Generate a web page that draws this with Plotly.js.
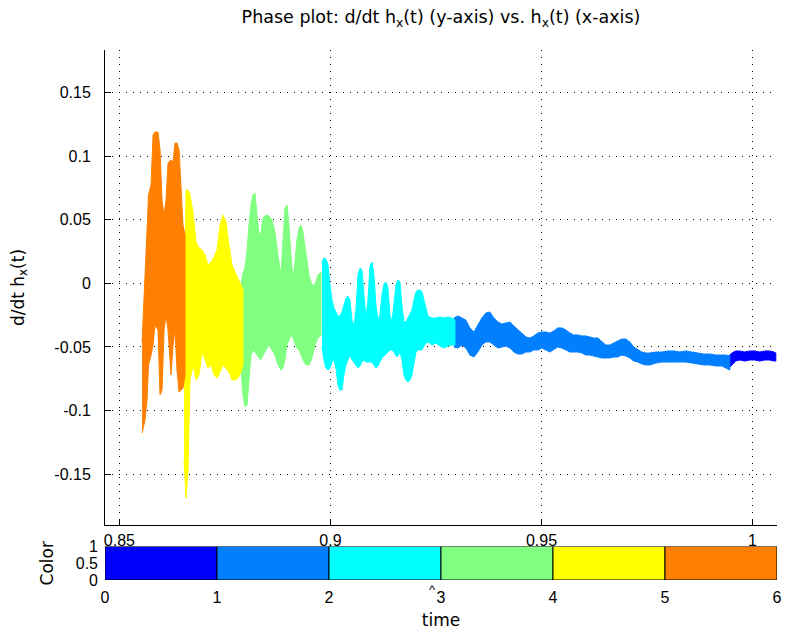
<!DOCTYPE html>
<html>
<head>
<meta charset="utf-8">
<script src="https://cdn.plot.ly/plotly-3.0.1.min.js"></script>
<style>html,body{margin:0;padding:0;background:#fff;}#chart{width:793px;height:635px;}</style>
</head>
<body>
<div id="chart"></div>
<script>
// ---- data (envelopes of each coloured time segment) ----
const orangeX = [0.85538,0.85609,0.85656,0.85691,0.85751,0.85798,0.85845,0.85916,0.85964,0.86011,0.86059,0.86106,0.86153,0.86224,0.86272,0.86319,0.86366,0.86414,0.86461,0.86508,0.86556];
const orangeTop = [-0.0461,0.0010,0.0419,0.0694,0.0773,0.1166,0.1189,0.1189,0.1048,0.0655,0.0535,0.0655,0.0946,0.0969,0.0953,0.1103,0.1103,0.1048,0.0733,0.0458,0.0380];
const orangeBot = [-0.1177,-0.1075,-0.0917,-0.0642,-0.0564,-0.0485,-0.0328,-0.0367,-0.0878,-0.0839,-0.0367,-0.0249,-0.0367,-0.0721,-0.0485,-0.0367,-0.0682,-0.0855,-0.0839,-0.0823,-0.0721];

const yellowX = [0.86532,0.86580,0.86627,0.86674,0.86745,0.86816,0.86887,0.86958,0.87029,0.87101,0.87172,0.87243,0.87314,0.87385,0.87456,0.87527,0.87598,0.87669,0.87740,0.87811,0.87882,0.87929];
const yellowTop = [-0.0367,0.0733,0.0733,0.0694,0.0561,0.0325,0.0278,0.0262,0.0222,0.0144,0.0167,0.0207,0.0262,0.0458,0.0537,0.0482,0.0301,0.0144,0.0089,0.0042,-0.0013,-0.0053];
const yellowBot = [-0.1389,-0.1688,-0.1468,-0.0760,-0.0642,-0.0760,-0.0721,-0.0540,-0.0603,-0.0666,-0.0642,-0.0721,-0.0745,-0.0697,-0.0642,-0.0666,-0.0697,-0.0760,-0.0760,-0.0745,-0.0697,-0.0642];

const greenX = [0.87882,0.87929,0.87977,0.88024,0.88071,0.88119,0.88166,0.88213,0.88261,0.88308,0.88356,0.88403,0.88474,0.88545,0.88616,0.88687,0.88758,0.88829,0.88877,0.88924,0.88971,0.89019,0.89066,0.89113,0.89161,0.89208,0.89256,0.89303,0.89350,0.89421,0.89492,0.89563,0.89634,0.89705,0.89777];
const greenTop = [-0.0013,0.0081,0.0120,0.0262,0.0458,0.0616,0.0694,0.0710,0.0537,0.0380,0.0403,0.0513,0.0537,0.0529,0.0498,0.0403,0.0222,0.0065,0.0340,0.0592,0.0616,0.0458,0.0222,0.0026,0.0167,0.0340,0.0435,0.0458,0.0403,0.0222,0.0065,-0.0013,-0.0013,0.0065,0.0089];
const greenBot = [-0.0682,-0.0878,-0.0972,-0.0957,-0.0760,-0.0564,-0.0524,-0.0540,-0.0564,-0.0587,-0.0603,-0.0564,-0.0524,-0.0485,-0.0524,-0.0564,-0.0642,-0.0682,-0.0666,-0.0603,-0.0485,-0.0446,-0.0406,-0.0430,-0.0461,-0.0509,-0.0524,-0.0564,-0.0603,-0.0642,-0.0642,-0.0587,-0.0485,-0.0430,-0.0406];

const cyanX = [0.89800,0.89847,0.89895,0.89942,0.89990,0.90037,0.90084,0.90132,0.90179,0.90226,0.90274,0.90321,0.90369,0.90416,0.90463,0.90511,0.90558,0.90605,0.90653,0.90700,0.90748,0.90795,0.90842,0.90890,0.90937,0.90984,0.91032,0.91079,0.91127,0.91174,0.91221,0.91269,0.91316,0.91363,0.91411,0.91458,0.91506,0.91553,0.91600,0.91648,0.91695,0.91742,0.91790,0.91837,0.91885,0.91932,0.91979,0.92027,0.92074,0.92121,0.92169,0.92216,0.92264,0.92311,0.92406,0.92500,0.92595,0.92690,0.92785,0.92879,0.92950];
const cyanTop = [0.0167,0.0199,0.0191,0.0144,-0.0013,-0.0131,-0.0194,-0.0226,-0.0257,-0.0257,-0.0226,-0.0171,-0.0116,-0.0100,-0.0131,-0.0289,-0.0336,-0.0210,0.0065,0.0120,0.0105,-0.0092,-0.0273,-0.0131,0.0136,0.0167,0.0065,-0.0171,-0.0289,-0.0249,-0.0092,-0.0006,0.0010,-0.0037,-0.0249,-0.0304,-0.0171,-0.0013,0.0026,0.0010,-0.0171,-0.0304,-0.0304,-0.0273,-0.0249,-0.0210,-0.0131,-0.0068,-0.0053,-0.0053,-0.0068,-0.0131,-0.0210,-0.0257,-0.0273,-0.0273,-0.0265,-0.0273,-0.0265,-0.0273,-0.0289];
const cyanBot = [-0.0501,-0.0603,-0.0666,-0.0682,-0.0666,-0.0619,-0.0603,-0.0666,-0.0800,-0.0839,-0.0839,-0.0721,-0.0642,-0.0603,-0.0564,-0.0603,-0.0619,-0.0642,-0.0666,-0.0650,-0.0619,-0.0603,-0.0619,-0.0619,-0.0619,-0.0619,-0.0642,-0.0666,-0.0650,-0.0619,-0.0587,-0.0572,-0.0564,-0.0540,-0.0524,-0.0524,-0.0540,-0.0572,-0.0572,-0.0540,-0.0603,-0.0721,-0.0760,-0.0776,-0.0760,-0.0721,-0.0642,-0.0540,-0.0524,-0.0524,-0.0524,-0.0493,-0.0469,-0.0461,-0.0485,-0.0469,-0.0493,-0.0509,-0.0493,-0.0485,-0.0485];

const azureX = [0.92926,0.93021,0.93116,0.93210,0.93305,0.93400,0.93494,0.93589,0.93684,0.93778,0.93873,0.93968,0.94063,0.94157,0.94252,0.94347,0.94441,0.94536,0.94631,0.94725,0.94820,0.94915,0.95009,0.95104,0.95199,0.95293,0.95388,0.95483,0.95578,0.95672,0.95767,0.95862,0.95956,0.96051,0.96146,0.96240,0.96335,0.96430,0.96524,0.96619,0.96714,0.96808,0.96903,0.96998,0.97093,0.97187,0.97282,0.97377,0.97471,0.97566,0.97710,0.97852,0.97994,0.98136,0.98278,0.98420,0.98562,0.98704,0.98846,0.98988,0.99130,0.99273,0.99367,0.99462];
const azureTop = [-0.0273,-0.0257,-0.0273,-0.0289,-0.0351,-0.0383,-0.0328,-0.0273,-0.0233,-0.0226,-0.0273,-0.0304,-0.0320,-0.0312,-0.0304,-0.0336,-0.0367,-0.0391,-0.0422,-0.0430,-0.0414,-0.0391,-0.0383,-0.0383,-0.0391,-0.0375,-0.0351,-0.0351,-0.0367,-0.0391,-0.0406,-0.0406,-0.0414,-0.0414,-0.0422,-0.0430,-0.0430,-0.0461,-0.0485,-0.0485,-0.0469,-0.0454,-0.0438,-0.0438,-0.0461,-0.0501,-0.0524,-0.0540,-0.0548,-0.0548,-0.0540,-0.0540,-0.0532,-0.0532,-0.0540,-0.0532,-0.0540,-0.0548,-0.0556,-0.0556,-0.0564,-0.0564,-0.0564,-0.0572];
const azureBot = [-0.0501,-0.0509,-0.0485,-0.0509,-0.0564,-0.0579,-0.0540,-0.0485,-0.0461,-0.0461,-0.0485,-0.0509,-0.0501,-0.0493,-0.0509,-0.0540,-0.0556,-0.0556,-0.0540,-0.0540,-0.0524,-0.0524,-0.0509,-0.0524,-0.0540,-0.0524,-0.0501,-0.0509,-0.0524,-0.0540,-0.0540,-0.0540,-0.0548,-0.0564,-0.0564,-0.0572,-0.0579,-0.0587,-0.0587,-0.0587,-0.0579,-0.0579,-0.0564,-0.0572,-0.0587,-0.0611,-0.0619,-0.0634,-0.0642,-0.0642,-0.0627,-0.0619,-0.0619,-0.0619,-0.0619,-0.0619,-0.0627,-0.0634,-0.0642,-0.0642,-0.0650,-0.0650,-0.0666,-0.0682];

const blueX = [0.99439,0.99510,0.99604,0.99699,0.99818,0.99936,1.00055,1.00173,1.00292,1.00410,1.00505,1.00552];
const blueTop = [-0.0572,-0.0548,-0.0532,-0.0532,-0.0540,-0.0532,-0.0532,-0.0540,-0.0532,-0.0532,-0.0540,-0.0548];
const blueBot = [-0.0666,-0.0642,-0.0611,-0.0603,-0.0611,-0.0603,-0.0603,-0.0611,-0.0603,-0.0603,-0.0611,-0.0611];

// colour legend bar (time segments)
const timeStart = [0, 1, 2, 3, 4, 5];
const timeColors = ['#0000FF', '#0080FF', '#00FFFF', '#80FF80', '#FFFF00', '#FF8000'];
const timeLevel = [1, 1, 1, 1, 1, 1];

// tick labels
const xTickVals = [0.85, 0.9, 0.95, 1];
const xTickText = ['0.85', '0.9', '0.95', '1'];
const yTickVals = [-0.15, -0.1, -0.05, 0, 0.05, 0.1, 0.15];
const yTickText = ['-0.15', '-0.1', '-0.05', '0', '0.05', '0.1', '0.15'];
const tTickVals = [0, 1, 2, 3, 4, 5, 6];
const cTickVals = [0, 0.5, 1];
const cTickText = ['0', '0.5', '1'];

// ---- build ----
function band(xs, top, bot, color) {
  const px = xs.concat(xs.slice().reverse());
  const py = top.concat(bot.slice().reverse());
  return {
    type: 'scatter', mode: 'lines', x: px, y: py,
    fill: 'toself', fillcolor: color,
    line: {color: color, width: 1},
    hoverinfo: 'skip', showlegend: false, xaxis: 'x', yaxis: 'y'
  };
}

const TICKFONT = {family: 'Liberation Sans, Arial, Helvetica, sans-serif', size: 16, color: '#000'};
const LABELFONT = {family: 'DejaVu Sans, Liberation Sans, sans-serif', size: 17, color: '#000'};

const traces = [
  band(blueX, blueTop, blueBot, timeColors[0]),
  band(azureX, azureTop, azureBot, timeColors[1]),
  band(cyanX, cyanTop, cyanBot, timeColors[2]),
  band(greenX, greenTop, greenBot, timeColors[3]),
  band(yellowX, yellowTop, yellowBot, timeColors[4]),
  band(orangeX, orangeTop, orangeBot, timeColors[5]),
  {
    type: 'bar', x: timeStart, y: timeLevel, width: 1, offset: 0,
    marker: {color: timeColors, line: {color: '#000', width: 1}},
    xaxis: 'x2', yaxis: 'y2', showlegend: false, hoverinfo: 'skip'
  }
];

const layout = {
  width: 793, height: 635,
  margin: {l: 105, r: 16, t: 50, b: 55},
  paper_bgcolor: '#fff', plot_bgcolor: '#fff',
  font: TICKFONT,
  showlegend: false,
  bargap: 0,
  title: {
    text: 'Phase plot: d/dt h<sub>x</sub>(t) (y-axis) vs. h<sub>x</sub>(t) (x-axis)',
    font: {family: LABELFONT.family, size: 17.5, color: '#000'},
    x: 0.5, xref: 'paper', xanchor: 'center',
    y: 1 - 17 / 635, yref: 'container', yanchor: 'middle'
  },
  xaxis: {
    domain: [0, 1], anchor: 'y',
    range: [0.8466, 1.0058],
    tickvals: xTickVals, ticktext: xTickText,
    ticks: 'inside', ticklen: 6, tickcolor: '#000',
    showline: true, linecolor: '#000', linewidth: 1, mirror: false,
    showgrid: true, gridcolor: '#000', gridwidth: 1, griddash: '1px,6px',
    zeroline: false, ticklabelstandoff: 1,
    tickfont: TICKFONT
  },
  yaxis: {
    domain: [55 / 530, 1], anchor: 'x',
    range: [-0.190, 0.1834],
    tickvals: yTickVals, ticktext: yTickText,
    ticks: 'inside', ticklen: 6, tickcolor: '#000',
    showline: true, linecolor: '#000', linewidth: 1, mirror: false,
    showgrid: true, gridcolor: '#000', gridwidth: 1, griddash: '1px,6px',
    zeroline: false, ticklabelstandoff: 10,
    tickfont: TICKFONT,
    title: {text: 'd/dt h<sub>x</sub>(t)', font: LABELFONT, standoff: 25}
  },
  xaxis2: {
    domain: [0, 1], anchor: 'y2',
    range: [0, 6], tickvals: tTickVals,
    ticks: '', showline: false, showgrid: false, zeroline: false,
    tickfont: TICKFONT,
    ticklabelstandoff: 6,
    title: {text: 'time', font: LABELFONT, standoff: 9}
  },
  yaxis2: {
    domain: [0, 33.5 / 530], anchor: 'x2',
    range: [0, 1], tickvals: cTickVals, ticktext: cTickText,
    ticks: '', showline: false, showgrid: false, zeroline: false,
    tickfont: TICKFONT,
    ticklabelstandoff: 6,
    title: {text: 'Color', font: LABELFONT, standoff: 17}
  },
  annotations: [
    {text: '^', x: 2.92, xref: 'x2', y: 0, yref: 'paper', yanchor: 'top',
     showarrow: false, font: {family: TICKFONT.family, size: 13, color: '#000'}}
  ]
};

Plotly.newPlot('chart', traces, layout, {displayModeBar: false, staticPlot: true});
</script>
</body>
</html>
